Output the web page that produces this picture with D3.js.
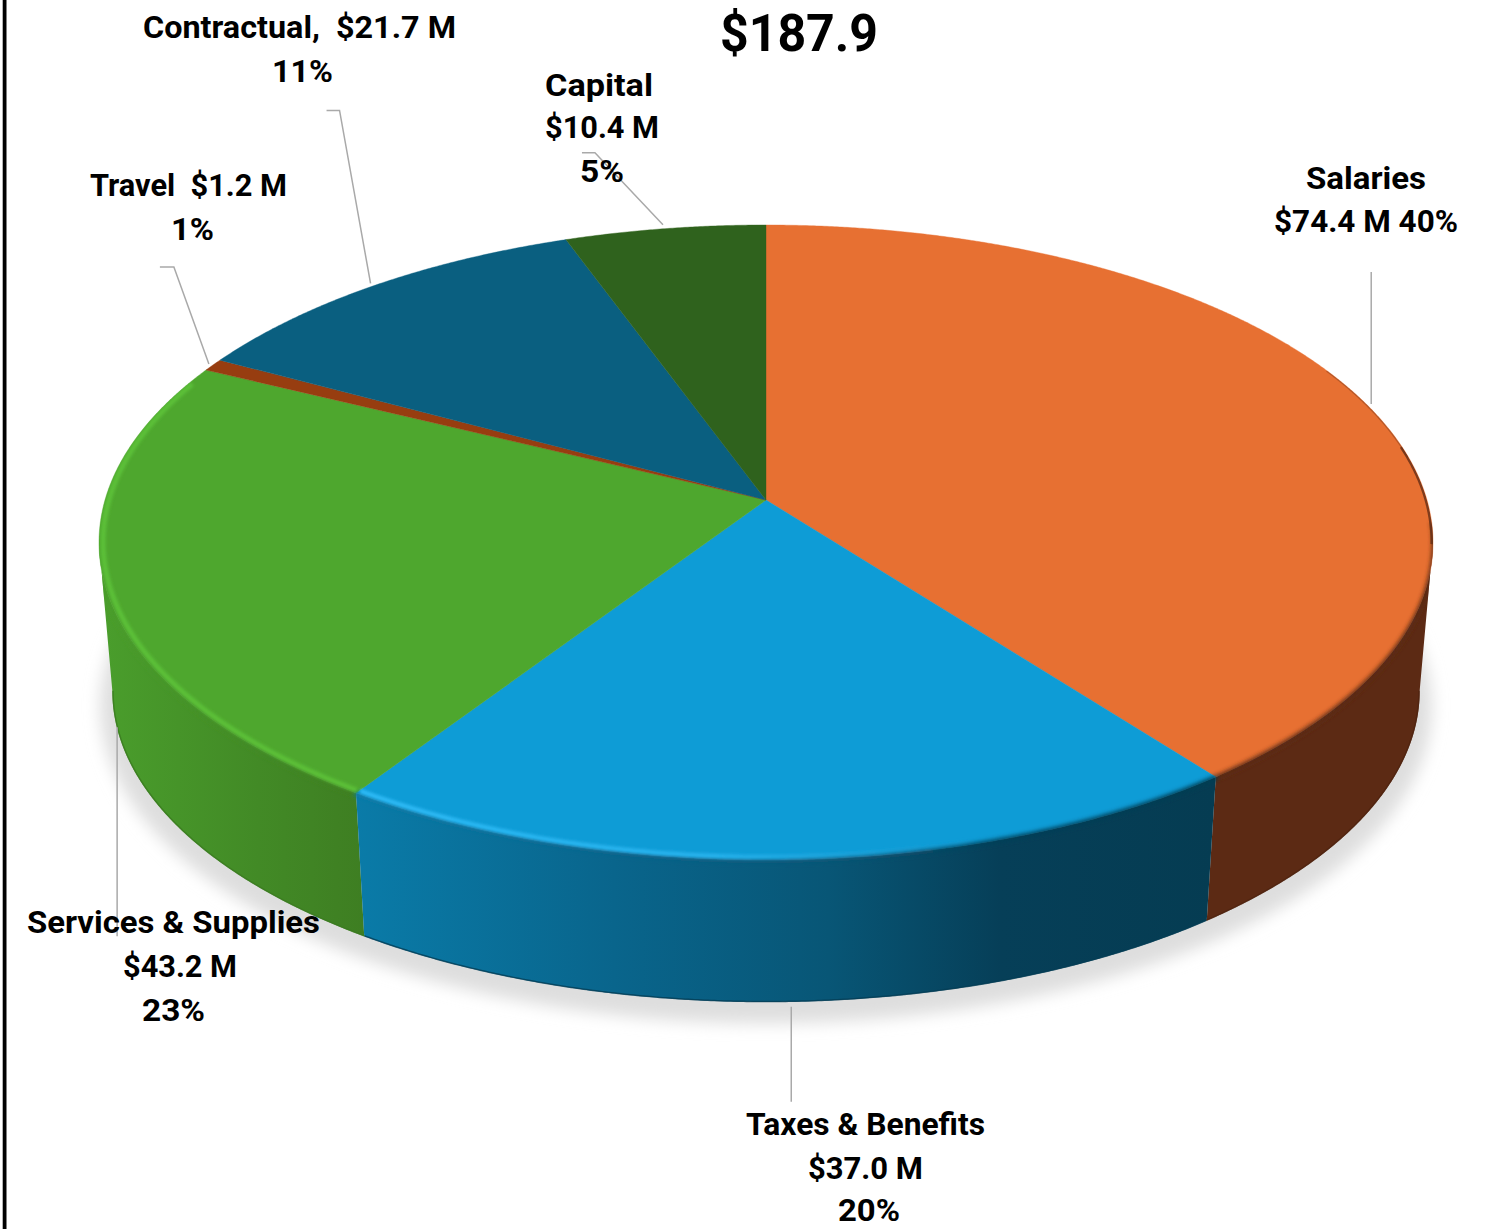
<!DOCTYPE html>
<html>
<head>
<meta charset="utf-8">
<style>html,body{margin:0;padding:0;background:#fff;overflow:hidden}svg{display:block}text{font-family:Roboto,"Liberation Sans",sans-serif;font-weight:700;fill:#000}</style>
<script src="https://cdn.jsdelivr.net/npm/d3@7"></script>
</head>
<body>
<svg id="c" width="1496" height="1229"></svg>
<script>
// ---- data ----
const categories = ["Salaries","Taxes & Benefits","Services & Supplies","Travel","Contractual","Capital"];
const amounts = [74.4,37.0,43.2,1.2,21.7,10.4];
const percentLabels = [40,20,23,1,11,5];
const totalLabel = "$187.9";

// ---- styling and layout ----
const topColors = ["#e77032","#0e9cd6","#4ea72e","#973d10","#0a5f80","#2f621d"];
const wallStops = {
  0:[[0,"#5c2a14"],[1,"#5c2a14"]],
  1:[[0,"#0a7ba8"],[.3,"#09658c"],[.55,"#085676"],[.75,"#063f58"],[1,"#053c52"]],
  2:[[0,"#4a9e2c"],[.6,"#428a26"],[1,"#3e7e22"]]
};
// text lines: [text, left, right, baseline]
const fmt = v => "$" + v.toFixed(1) + " M";
const pct = i => percentLabels[i] + "%";
const textLines = [
  [categories[4]+",  "+fmt(amounts[4]),143,456,38],[pct(4),272,333,82],
  [categories[5],545,653,96],[fmt(amounts[5]),545,659,138],[pct(5),580,624,182],
  [categories[3]+"  "+fmt(amounts[3]),90,287,196],[pct(3),171,214,240],
  [categories[0],1306,1426,189],[fmt(amounts[0])+" "+pct(0),1274,1458,232],
  [categories[2],27,320,933],[fmt(amounts[2]),123,237,977],[pct(2),142,205,1021],
  [categories[1],746,985,1135],[fmt(amounts[1]),808,923,1179],[pct(1),838,900,1221]
];
// leader shape by slice: elbow offsets relative to the slice anchor
const leaderLayout = [
  {on:"top",  pts:[[5,0],[5,-132]]},
  {on:"base", pts:[[-1,5],[-1,100]]},
  {on:"base", pts:[[-1,-5],[-1,204]]},
  {on:"top",  pts:[[-4,-1],[-39,-98],[-53,-98]]},
  {on:"top",  pts:[[-4,-2],[-35,-175],[-48,-175]]},
  {on:"top",  pts:[[-2,-4],[-70,-76],[-83,-76]]}
];

// ---- projection of the disc ----
const cx=766, cy=500, A=661, B=311.8, k=0.1338, baseScale=0.98, baseY=649.2;
const sxT=(t,r=1)=>A*r*Math.sin(t)/(1+k*r*Math.cos(t));
const syT=(t,r=1)=>-B*r*Math.cos(t)/(1+k*r*Math.cos(t));
const topPt=(t,r=1)=>[cx+sxT(t,r),cy+syT(t,r)];
const basePt=(t,r=1)=>[cx+baseScale*sxT(t,r),baseY+baseScale*syT(t,r)];
const rad=d=>d*Math.PI/180;
const sil1=Math.acos(-k), sil2=2*Math.PI-sil1;
const samples=(a,b)=>{const n=Math.max(2,Math.ceil((b-a)/rad(0.25)));return d3.range(n+1).map(i=>a+(b-a)*i/n);};
const line=d3.line();

const arcs=d3.pie().sort(null).value(d=>d)(amounts);
const svg=d3.select("#c");
const defs=svg.append("defs");
const blur=(id,s)=>defs.append("filter").attr("id",id).attr("x","-20%").attr("y","-20%").attr("width","140%").attr("height","140%")
  .attr("filterUnits","objectBoundingBox").append("feGaussianBlur").attr("stdDeviation",s);
blur("bShadow",8); blur("bRim",2); blur("bGlow",1.6); blur("bThin",.7);

const wallX=d3.scaleLinear().domain([0,1]);
Object.entries(wallStops).forEach(([i,st])=>{
  const a=arcs[+i], s=Math.max(a.startAngle,sil1), e=Math.min(a.endAngle,sil2);
  const xs=[topPt(s)[0],topPt(e)[0],basePt(s)[0],basePt(e)[0]];
  wallX.range([d3.min(xs),d3.max(xs)]);
  const g=defs.append("linearGradient").attr("id","wall"+i).attr("gradientUnits","userSpaceOnUse")
    .attr("x1",wallX(0)).attr("x2",wallX(1)).attr("y1",0).attr("y2",0);
  st.forEach(p=>g.append("stop").attr("offset",p[0]).attr("stop-color",p[1]));
});
// blue highlight fades out towards the right
const hl=defs.append("linearGradient").attr("id","blueHi").attr("gradientUnits","userSpaceOnUse").attr("x1",360).attr("x2",1000).attr("y1",0).attr("y2",0);
hl.append("stop").attr("offset",0).attr("stop-color","#2dbbf7").attr("stop-opacity",1);
hl.append("stop").attr("offset",.55).attr("stop-color","#2dbbf7").attr("stop-opacity",.85);
hl.append("stop").attr("offset",1).attr("stop-color","#2dbbf7").attr("stop-opacity",0);

// solid outline of disc plus walls, keeps bevel strokes inside the body
const wallPath=i=>{const s=Math.max(arcs[i].startAngle,sil1),e=Math.min(arcs[i].endAngle,sil2),ts=samples(s,e);
  return line(ts.map(t=>topPt(t)).concat(ts.slice().reverse().map(t=>basePt(t))))+"Z";};
const body=defs.append("clipPath").attr("id","body");
body.append("path").attr("d",line(samples(0,2*Math.PI).map(t=>topPt(t)))+"Z");
[0,2,1].forEach(i=>body.append("path").attr("d",wallPath(i)));

// left frame rule
svg.append("rect").attr("x",2.7).attr("y",0).attr("width",3.8).attr("height",1229).attr("fill","#000");

// soft ground shadow
svg.append("path").attr("d",line(samples(0,2*Math.PI).map(t=>basePt(t,1.018)))+"Z")
  .attr("transform","translate(0,14)").attr("fill","#dedede").attr("filter","url(#bShadow)");

// walls
const wallIdx=[0,2,1];
svg.append("g").selectAll("path").data(wallIdx).join("path")
  .attr("d",wallPath).attr("fill",i=>`url(#wall${i})`);

// base edge, a touch darker
svg.append("g").selectAll("path").data(wallIdx).join("path")
  .attr("d",i=>line(samples(Math.max(arcs[i].startAngle,sil1),Math.min(arcs[i].endAngle,sil2)).map(t=>basePt(t,0.999))))
  .attr("fill","none").attr("stroke",i=>i===1?"#053d55":i===2?"#3b7a20":"#4f2410").attr("stroke-width",1.5).attr("opacity",.8);

// top face
svg.append("g").selectAll("path").data(arcs).join("path")
  .attr("d",a=>line([[cx,cy]].concat(samples(a.startAngle,a.endAngle).map(t=>topPt(t))))+"Z")
  .attr("fill",(a,i)=>topColors[i]).attr("stroke",(a,i)=>topColors[i]).attr("stroke-width",.4);

// bevel, clipped to the body
const bevel=svg.append("g").attr("clip-path","url(#body)");
bevel.append("g").selectAll("path").data(wallIdx).join("path")
  .attr("d",i=>{const s=i===0?rad(94):arcs[i].startAngle, e=i===2?sil2-rad(6):arcs[i].endAngle;
    return line(samples(s,e).map(t=>topPt(t,1.002)));})
  .attr("fill","none").attr("stroke",i=>`url(#wall${i})`).attr("stroke-width",5).attr("filter","url(#bRim)");
// thin dark outline on the far right of the orange slice
bevel.append("path").attr("d",line(samples(rad(64),rad(82)).map(t=>topPt(t,0.999))))
  .attr("fill","none").attr("stroke","#5c2a14").attr("stroke-width",1.6).attr("opacity",.35).attr("filter","url(#bThin)");
bevel.append("path").attr("d",line(samples(rad(80),rad(98)).map(t=>topPt(t,0.998))))
  .attr("fill","none").attr("stroke","#5c2a14").attr("stroke-width",2.4).attr("opacity",.75).attr("filter","url(#bThin)");
// bevel highlights
bevel.append("path").attr("d",line(samples(arcs[1].startAngle+rad(0.2),arcs[1].endAngle-rad(0.1)).map(t=>topPt(t,0.993))))
  .attr("fill","none").attr("stroke","url(#blueHi)").attr("stroke-width",4.5).attr("filter","url(#bGlow)");
bevel.append("path").attr("d",line(samples(arcs[2].startAngle+rad(0.2),arcs[2].endAngle-rad(3)).map(t=>topPt(t,0.994))))
  .attr("fill","none").attr("stroke","#5cc039").attr("stroke-width",5).attr("filter","url(#bGlow)");

// leader lines, anchored on each slice's mid angle
svg.append("g").selectAll("path").data(arcs).join("path")
  .attr("d",(a,i)=>{const m=(a.startAngle+a.endAngle)/2,l=leaderLayout[i],p=l.on==="top"?topPt(m):basePt(m);
    return line(l.pts.map(o=>[p[0]+o[0],p[1]+o[1]]));})
  .attr("fill","none").attr("stroke","#a9a9a9").attr("stroke-width",1.5);

// labels
svg.append("g").selectAll("text").data(textLines).join("text")
  .attr("x",d=>d[1]).attr("y",d=>d[3]).attr("font-size",32).attr("xml:space","preserve").style("white-space","pre")
  .attr("textLength",d=>d[2]-d[1]).attr("lengthAdjust","spacingAndGlyphs").text(d=>d[0]);
svg.append("text").attr("x",720).attr("y",51).attr("font-size",52).attr("textLength",158).attr("lengthAdjust","spacingAndGlyphs").text(totalLabel);
</script>
</body>
</html>
